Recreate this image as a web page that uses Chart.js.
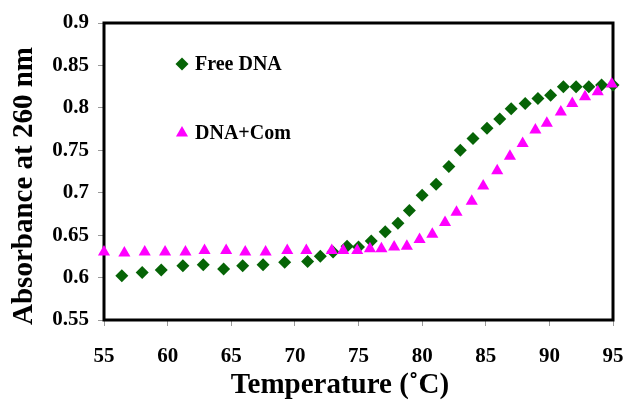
<!DOCTYPE html>
<html>
<head>
<meta charset="utf-8">
<script src="https://cdn.jsdelivr.net/npm/chart.js@4.4.1/dist/chart.umd.min.js"></script>
<style>
  html, body { margin: 0; padding: 0; background: #fff; }
  #wrap { width: 627px; height: 407px; }
</style>
</head>
<body>
<div id="wrap"><canvas id="chart" width="627" height="407"></canvas></div>
<script>
// Free DNA (green diamonds)
const freeTemp = [56.4, 58.0, 59.5, 61.2, 62.8, 64.4, 65.9, 67.5, 69.2, 71.0, 72.0, 73.0, 74.1, 75.0, 76.0, 77.1, 78.1, 79.0, 80.0, 81.1, 82.1, 83.0, 84.0, 85.1, 86.1, 87.0, 88.1, 89.1, 90.1, 91.1, 92.1, 93.1, 94.1, 95.0];
const freeAbs = [0.602, 0.606, 0.609, 0.614, 0.615, 0.610, 0.614, 0.615, 0.618, 0.619, 0.625, 0.630, 0.637, 0.636, 0.643, 0.654, 0.664, 0.679, 0.697, 0.710, 0.731, 0.750, 0.764, 0.776, 0.787, 0.799, 0.805, 0.811, 0.815, 0.825, 0.825, 0.825, 0.827, 0.827];

// DNA+Com (magenta triangles)
const comTemp = [55.0, 56.6, 58.2, 59.8, 61.4, 62.9, 64.6, 66.1, 67.7, 69.4, 70.9, 72.9, 73.8, 74.9, 75.9, 76.8, 77.8, 78.8, 79.8, 80.8, 81.8, 82.7, 83.9, 84.8, 85.9, 86.9, 87.9, 88.9, 89.8, 90.9, 91.8, 92.8, 93.8, 94.9];
const comAbs = [0.630, 0.629, 0.630, 0.630, 0.630, 0.632, 0.632, 0.630, 0.630, 0.632, 0.632, 0.632, 0.632, 0.632, 0.634, 0.634, 0.636, 0.637, 0.645, 0.651, 0.665, 0.677, 0.690, 0.708, 0.726, 0.743, 0.758, 0.774, 0.782, 0.795, 0.805, 0.813, 0.819, 0.828];

const xTicks = [55, 60, 65, 70, 75, 80, 85, 90, 95];
const yTicks = [0.55, 0.6, 0.65, 0.7, 0.75, 0.8, 0.85, 0.9];

const seriesNames = ['Free DNA', 'DNA+Com'];
const xTitle = 'Temperature (\u02DAC)';
const yTitle = 'Absorbance at 260 nm';

const GREEN = '#066406';
const PINK = '#ff00ff';
const SERIF = "'Liberation Serif', 'DejaVu Serif', serif";

function pts(xs, ys) {
  return xs.map((x, i) => ({ x: x, y: ys[i] }));
}

function marker(ctx, shape, x, y, r) {
  ctx.beginPath();
  if (shape === 'rectRot') {
    ctx.moveTo(x - r, y); ctx.lineTo(x, y - r); ctx.lineTo(x + r, y); ctx.lineTo(x, y + r);
  } else {
    ctx.moveTo(x, y - r);
    ctx.lineTo(x + r * Math.sin(Math.PI * 2 / 3), y - r * Math.cos(Math.PI * 2 / 3));
    ctx.lineTo(x + r * Math.sin(Math.PI * 4 / 3), y - r * Math.cos(Math.PI * 4 / 3));
  }
  ctx.closePath();
  ctx.fill();
}

const decor = {
  id: 'decor',
  beforeDatasetsDraw(chart) {
    const a = chart.chartArea, ctx = chart.ctx;
    ctx.save();
    ctx.strokeStyle = '#000';
    ctx.lineWidth = 3;
    ctx.strokeRect(a.left, a.top, a.right - a.left, a.bottom - a.top);
    ctx.restore();
  },
  afterDraw(chart) {
    const a = chart.chartArea, ctx = chart.ctx;
    ctx.save();
    ctx.fillStyle = '#000';
    // axis titles
    ctx.font = 'bold 29px ' + SERIF;
    ctx.textAlign = 'center';
    ctx.textBaseline = 'middle';
    ctx.fillText(xTitle, a.left + 236, a.bottom + 66);
    ctx.save();
    ctx.translate(a.left - 79, a.top + 163);
    ctx.rotate(-Math.PI / 2);
    ctx.fillText(yTitle, 0, 0);
    ctx.restore();
    // legend inside plot
    ctx.font = 'bold 20px ' + SERIF;
    ctx.textAlign = 'left';
    const rows = [
      { name: seriesNames[0], color: GREEN, shape: 'rectRot', r: 6.5, dy: 41 },
      { name: seriesNames[1], color: PINK, shape: 'triangle', r: 7, dy: 110 }
    ];
    rows.forEach(row => {
      const cx = a.left + 78, cy = a.top + row.dy;
      ctx.fillStyle = row.color;
      marker(ctx, row.shape, cx, cy, row.r);
      ctx.fillStyle = '#000';
      ctx.fillText(row.name, cx + 13, cy + 1);
    });
    ctx.restore();
  }
};

new Chart(document.getElementById('chart'), {
  type: 'scatter',
  data: {
    datasets: [
      {
        label: seriesNames[0],
        data: pts(freeTemp, freeAbs),
        pointStyle: 'rectRot',
        pointRadius: 6.5,
        pointBackgroundColor: GREEN,
        pointBorderColor: GREEN,
        pointBorderWidth: 0,
        clip: false,
        order: 1
      },
      {
        label: seriesNames[1],
        data: pts(comTemp, comAbs),
        pointStyle: 'triangle',
        pointRadius: 7,
        pointBackgroundColor: PINK,
        pointBorderColor: PINK,
        pointBorderWidth: 0,
        clip: false,
        order: 0
      }
    ]
  },
  options: {
    responsive: false,
    animation: false,
    events: [],
    layout: { padding: { left: 0, top: 23, right: 14, bottom: 0 } },
    plugins: {
      legend: { display: false },
      tooltip: { enabled: false }
    },
    scales: {
      x: {
        type: 'linear',
        min: 55,
        max: 95,
        afterBuildTicks: s => { s.ticks = xTicks.map(v => ({ value: v })); },
        afterFit: s => { s.height = 87; s.paddingLeft = 0; s.paddingRight = 0; },
        ticks: {
          color: '#000',
          font: { family: SERIF, size: 21, weight: 'bold' },
          padding: 18,
          maxRotation: 0
        },
        grid: { drawOnChartArea: false, drawTicks: true, tickLength: 6, color: '#9a9a9a' },
        border: { display: false }
      },
      y: {
        type: 'linear',
        min: 0.55,
        max: 0.9,
        afterBuildTicks: s => { s.ticks = yTicks.map(v => ({ value: v })); },
        afterFit: s => { s.width = 104; s.paddingTop = 0; s.paddingBottom = 0; },
        ticks: {
          color: '#000',
          font: { family: SERIF, size: 21, weight: 'bold' },
          padding: 9,
          callback: v => String(Number(v.toFixed(2)))
        },
        grid: { drawOnChartArea: false, drawTicks: true, tickLength: 6, color: '#9a9a9a' },
        border: { display: false }
      }
    }
  },
  plugins: [decor]
});
</script>
</body>
</html>
